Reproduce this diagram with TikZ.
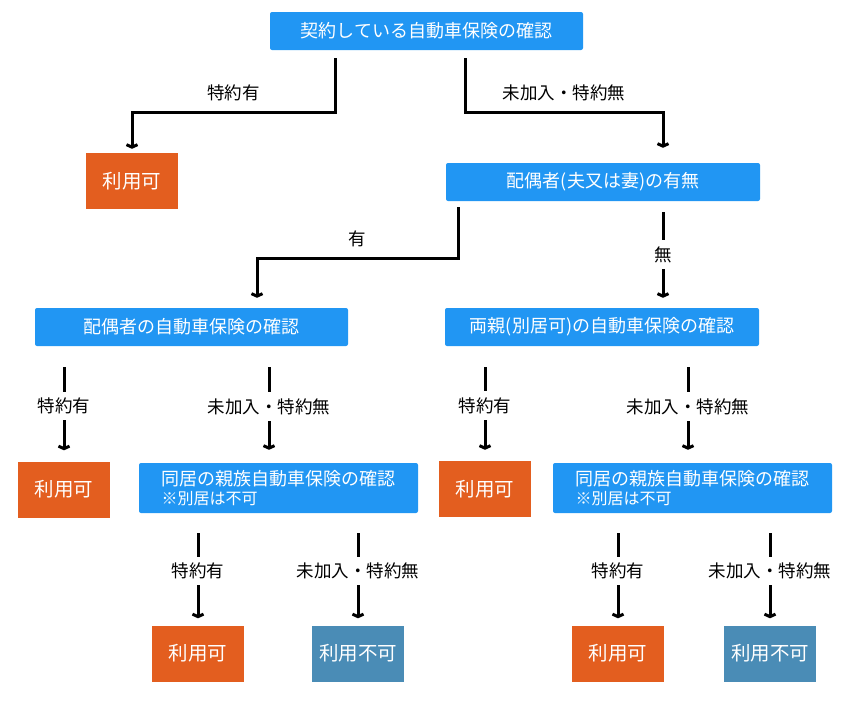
\documentclass[tikz,border=0pt]{standalone}
\usepackage{fontspec}
\newfontfamily\jp{Noto Sans CJK JP}
\usetikzlibrary{arrows.meta}
\definecolor{boxblue}{RGB}{33,150,243}
\definecolor{okorange}{RGB}{227,94,31}
\definecolor{ngblue}{RGB}{74,140,182}
\tikzset{
  chk/.style={fill=boxblue, text=white, rounded corners=2pt, minimum height=38pt, inner sep=0pt, font=\jp\fontsize{18}{20}\selectfont},
  ok/.style={fill=okorange, text=white, minimum width=92pt, minimum height=56pt, font=\jp\fontsize{19.5}{22}\selectfont},
  ng/.style={ok, fill=ngblue},
  arr/.style={line width=3pt, -{Straight Barb[length=2.5pt,width=11pt]}},
  lbl/.style={font=\jp\fontsize{17.5}{20}\selectfont, fill=white, inner sep=6pt, yshift=-2pt},
  lblh/.style={font=\jp\fontsize{17.5}{20}\selectfont, above=10pt, inner sep=0pt}
}
\begin{document}
\begin{tikzpicture}[x=1pt,y=-1pt]
\useasboundingbox (0,0) rectangle (854,707);
\node[chk, minimum width=313pt] (top) at (426.5,31) {契約している自動車保険の確認};
\node[ok] (ok1) at (132,181) {利用可};
\node[chk, minimum width=314pt] (spouse) at (603,182) {配偶者(夫又は妻)の有無};
\node[chk, minimum width=313pt] (spins) at (191.5,327) {配偶者の自動車保険の確認};
\node[chk, minimum width=314pt] (parins) at (602,327) {両親(別居可)の自動車保険の確認};
\node[ok] (ok2) at (64,489.5) {利用可};
\node[chk, minimum width=279pt, minimum height=50pt, align=left] (fam1) at (278.5,488)
  {同居の親族自動車保険の確認\\[-1pt]{\fontsize{16}{18}\selectfont ※別居は不可}};
\node[ok] (ok3) at (485,489) {利用可};
\node[chk, minimum width=279pt, minimum height=50pt, align=left] (fam2) at (692.5,488)
  {同居の親族自動車保険の確認\\[-1pt]{\fontsize{16}{18}\selectfont ※別居は不可}};
\node[ok] (ok4) at (198,653.5) {利用可};
\node[ng] (ng1) at (358,653.5) {利用不可};
\node[ok] (ok5) at (618,653.5) {利用可};
\node[ng] (ng2) at (770,653.5) {利用不可};
\coordinate (lv1) at (0,112);
\coordinate (lv2) at (0,258);
\coordinate (c1) at ([xshift=60pt]spouse.south);
\coordinate (c2) at ([xshift=-9.5pt]fam1.north);
\coordinate (c3) at ([xshift=-4.5pt]fam2.north);
\draw[arr, shorten <=8pt, shorten >=4pt] ([xshift=-91.5pt]top.south) |- node[lblh, pos=.75] {特約有} (ok1.north |- lv1) -- (ok1.north);
\draw[arr, shorten <=8pt, shorten >=15pt] ([xshift=38.5pt]top.south) |- node[lblh, pos=.75] {未加入・特約無} (c1 |- lv1) -- (c1 |- spouse.north);
\draw[arr, shorten <=6pt, shorten >=10pt] ([xshift=-145pt]spouse.south) |- node[lblh, pos=.75] {有} ([xshift=65.5pt]spins.north |- lv2) -- ([xshift=65.5pt]spins.north);
\draw[arr, shorten <=11pt, shorten >=10pt] (c1) -- node[lbl, yshift=2pt] {無} (c1 |- parins.north);
\draw[arr, shorten <=21pt, shorten >=11pt] (spins.south -| ok2) -- node[lbl] {特約有} (ok2.north);
\draw[arr, shorten <=21pt, shorten >=13pt] (spins.south -| c2) -- node[lbl] {未加入・特約無} (c2);
\draw[arr, shorten <=21pt, shorten >=11pt] (parins.south -| ok3) -- node[lbl] {特約有} (ok3.north);
\draw[arr, shorten <=21pt, shorten >=13pt] (parins.south -| c3) -- node[lbl] {未加入・特約無} (c3);
\draw[arr, shorten <=20pt, shorten >=7pt] (fam1.south -| ok4) -- node[lbl] {特約有} (ok4.north);
\draw[arr, shorten <=20pt, shorten >=7pt] (fam1.south -| ng1) -- node[lbl] {未加入・特約無} (ng1.north);
\draw[arr, shorten <=20pt, shorten >=7pt] (fam2.south -| ok5) -- node[lbl] {特約有} (ok5.north);
\draw[arr, shorten <=20pt, shorten >=7pt] (fam2.south -| ng2) -- node[lbl] {未加入・特約無} (ng2.north);
\end{tikzpicture}
\end{document}
